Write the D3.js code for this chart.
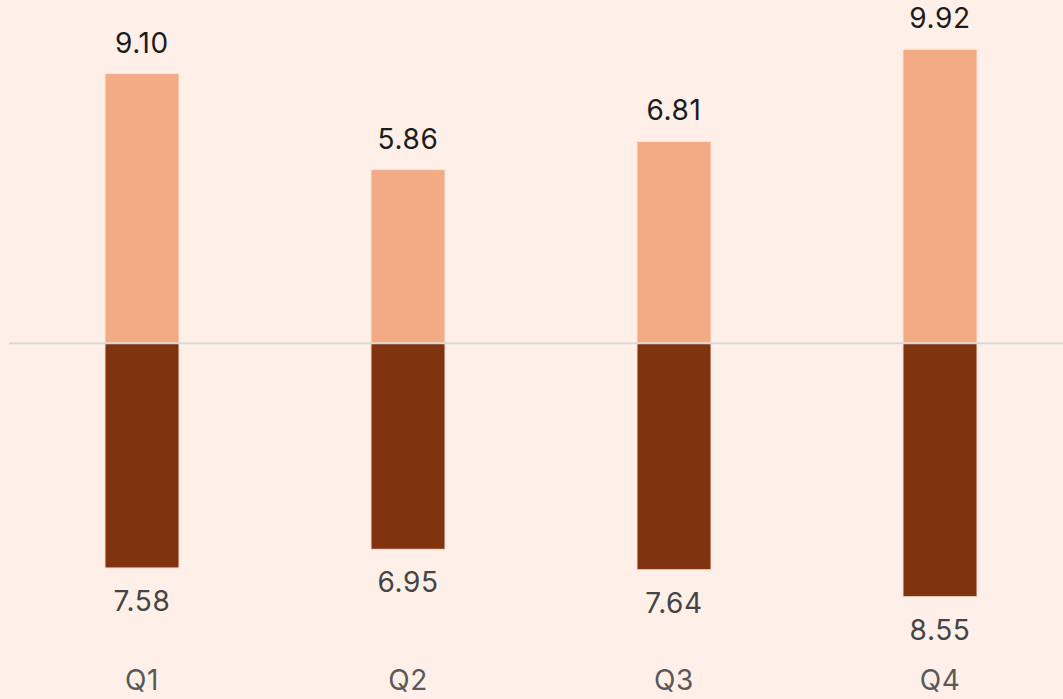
<!DOCTYPE html>
<html><head><meta charset="utf-8">
<script src="https://cdn.jsdelivr.net/npm/d3@7"></script>
<style>
html,body{margin:0;padding:0;background:#fef0e8;}
svg{display:block;font-family:Inter,"Noto Sans",sans-serif;}
</style></head><body>
<svg id="c" width="1063" height="699"></svg>
<script>
const categories = ["Q1","Q2","Q3","Q4"];
const upperValues = [9.10, 5.86, 6.81, 9.92];
const lowerValues = [7.58, 6.95, 7.64, 8.55];

const W = 1063, H = 699;
const svg = d3.select("#c");
svg.append("rect").attr("width",W).attr("height",H).attr("fill","#fef0e8");

const x = d3.scaleBand().domain(categories).range([9, 1073]).padding(0);
const barW = 74;
const y = d3.scaleLinear().domain([-8.55, 9.92]).range([596.7, 49.3]);

const g = svg.append("g");
categories.forEach((c, i) => {
  const cx = x(c) + x.bandwidth() / 2;
  g.append("rect").attr("x", cx - barW/2).attr("y", y(upperValues[i]))
    .attr("width", barW).attr("height", y(0) - y(upperValues[i]))
    .attr("fill", "#f2ab85").attr("stroke", "#fbe2d4").attr("stroke-width", 1);
  g.append("rect").attr("x", cx - barW/2).attr("y", y(0))
    .attr("width", barW).attr("height", y(-lowerValues[i]) - y(0))
    .attr("fill", "#80330f").attr("stroke", "#f6dccd").attr("stroke-width", 1);
  g.append("text").attr("x", cx).attr("y", y(upperValues[i]) - 21)
    .attr("text-anchor","middle").attr("font-size", 28).attr("letter-spacing", 0.6).attr("fill","#1c1c1c")
    .text(upperValues[i].toFixed(2));
  g.append("text").attr("x", cx).attr("y", y(-lowerValues[i]) + 43)
    .attr("text-anchor","middle").attr("font-size", 28).attr("letter-spacing", 0.6).attr("fill","#444")
    .text(lowerValues[i].toFixed(2));
  g.append("text").attr("x", cx).attr("y", 690)
    .attr("text-anchor","middle").attr("font-size", 28).attr("letter-spacing", 0.6).attr("fill","#595959")
    .text(c);
});
svg.append("line").attr("x1", 9).attr("x2", W).attr("y1", y(0)).attr("y2", y(0))
  .attr("stroke", "#dcd8d5").attr("stroke-width", 2);
</script>
</body></html>
